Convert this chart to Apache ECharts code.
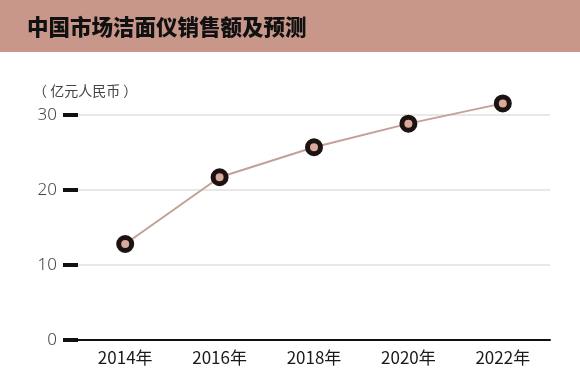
<!DOCTYPE html>
<html><head><meta charset="utf-8">
<script src="https://cdn.jsdelivr.net/npm/echarts@6/dist/echarts.min.js"></script>
<style>html,body{margin:0;padding:0;background:#fff}#c{width:580px;height:388px}</style>
</head><body><div id="c"></div>
<script>
const categories = ['2014年','2016年','2018年','2020年','2022年'];
const sales = [12.8, 21.7, 25.7, 28.85, 31.55];
const yTicks = [0, 10, 20, 30];
const titleText = '中国市场洁面仪销售额及预测';
const unitText = '（ 亿元人民币 ）';

const chart = echarts.init(document.getElementById('c'));
chart.setOption({
  backgroundColor: '#fff',
  animation: false,
  graphic: [
    {type:'rect', left:0, top:0, shape:{width:580, height:52}, style:{fill:'#c9968a'}, z:0},
    {type:'text', left:27, top:16, style:{text:titleText, font:'900 21.5px "Noto Sans CJK SC", sans-serif', fill:'#111'}, z:2},
    {type:'text', left:33, top:84, style:{text:unitText, font:'14px "Noto Sans CJK SC", sans-serif', fill:'#444'}, z:2}
  ],
  grid: {left:78, right:30, top:115, bottom:48},
  xAxis: {
    type:'category', data:categories, boundaryGap:true,
    axisLine:{show:true, lineStyle:{color:'#111', width:2}},
    axisTick:{show:false},
    axisLabel:{color:'#1a1a1a', fontSize:17, margin:9, fontFamily:'"Noto Sans CJK SC", sans-serif'}
  },
  yAxis: {
    type:'value', min:yTicks[0], max:yTicks[yTicks.length-1], interval:10,
    axisLine:{show:false},
    axisTick:{show:true, length:15, lineStyle:{color:'#111', width:4}},
    axisLabel:{color:'#444', fontSize:17, fontWeight:300, margin:21, fontFamily:'"Noto Sans", sans-serif'},
    splitLine:{show:true, lineStyle:{color:'#e0e0e0', width:1.5}}
  },
  series: [{
    type:'line', data:sales, clip:false,
    lineStyle:{color:'#c4a099', width:2},
    symbol:'circle', symbolSize:13,
    itemStyle:{color:'#d9aa9c', borderColor:'#1c1212', borderWidth:5},
    z:5
  }]
});
</script></body></html>
